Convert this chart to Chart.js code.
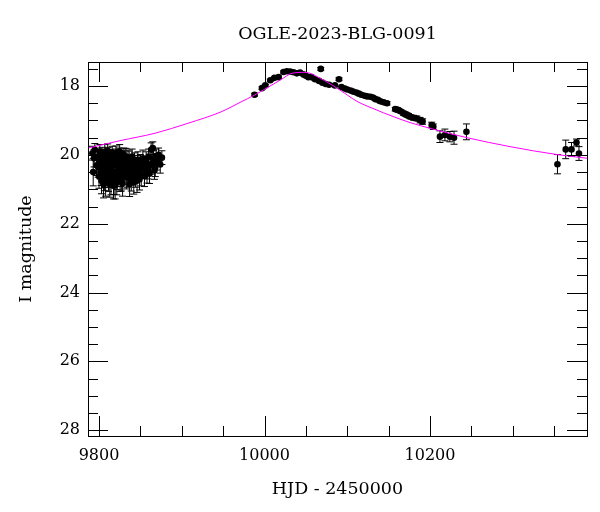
<!DOCTYPE html>
<html><head><meta charset="utf-8">
<script src="https://cdn.jsdelivr.net/npm/chart.js@4/dist/chart.umd.min.js"></script>
<style>html,body{margin:0;padding:0;background:#fff}#wrap{width:600px;height:512px}</style>
</head><body><div id="wrap"><canvas id="c" width="600" height="512"></canvas></div>
<script>
const chartTitle = "OGLE-2023-BLG-0091";
const xAxisTitle = "HJD - 2450000";
const yAxisTitle = "I magnitude";

const obsHJD = [
 9792,9793,9794,9795,9797,9798,9800,9801,9801.5,9802,9803,9803.5,9804,9805,9805.5,9806,9807,9807.5,9808,9808.5,
 9809,9810,9810.5,9811,9811.5,9812,9813,9813.5,9814,9815,9815.5,9816,9817,9817.5,9818,9818.5,9819,9820,9820.5,9821,
 9821.5,9822,9823,9823.5,9824,9825,9825.5,9826,9827,9827.5,9828,9829,9830,9831,9832,9833,9834,9835,9836,9837,
 9838,9839,9840,9841,9842,9843,9844,9845,9846,9847,9848,9850,9851,9853,9854,9856,9858,9860,9861,9863,
 9864,9866,9868,9870,9872,9874,9876,
 9799,9802.5,9804.5,9806.5,9809.5,9812.5,9814.5,9816.5,9819.5,9822.5,9824.5,9826.5,9828.5,9830.5,9832.5,9834.5,9836.5,9838.5,9840.5,9843.5,
 9846.5,9849,9852,9855,9857,9859,9862,9865,9867,9869,
 9988,9997,10001,10007,10012,10017,10023,10027,10031,10035,10039,10043,10047,10050,10053,10057,10061,10068,10066,10070,
 10074,10078,10085,10090,10093,10097,10100,10104,10107,10111,10114,10117,10121,10124,10128,10131,10134,10137,10140,10144,
 10148,10158,10160,10162,10165,10168,10170,10172,10174,10176,10180,10184,10188,10191,10202,10204,10212,10218,10224,10229,
 10244,10354,10364,10371,10377,10380
];
const obsMag = [
 19.95,20.50,20.10,19.85,20.30,20.05,20.62,19.90,20.40,20.20,20.75,19.98,20.45,20.10,20.85,20.35,19.92,20.60,20.80,20.18,
 20.25,20.55,19.88,20.00,20.70,20.40,20.85,20.08,20.15,20.60,20.32,19.95,20.30,20.90,20.75,20.12,20.10,20.50,19.96,20.05,
 20.80,20.65,20.20,20.55,20.45,19.90,20.72,20.35,20.70,20.10,20.15,20.55,20.00,20.40,20.25,20.65,20.60,20.10,20.45,20.85,
 20.30,20.70,20.05,20.50,20.80,20.20,20.62,20.35,20.75,20.15,20.48,20.25,20.58,20.10,20.40,20.30,20.52,20.05,20.55,19.85,
 20.25,20.10,20.35,20.20,20.00,20.28,20.08,
 20.35,20.55,20.05,20.68,20.42,20.22,20.78,20.48,20.88,20.30,20.02,20.58,20.82,20.35,20.05,20.30,20.15,20.55,20.38,20.50,
 20.28,20.70,20.35,20.62,20.15,20.42,20.30,19.80,20.45,20.05,
 18.25,18.06,17.98,17.83,17.76,17.74,17.59,17.57,17.58,17.60,17.63,17.61,17.66,17.70,17.74,17.74,17.80,17.50,17.85,17.90,
 17.94,17.96,17.98,17.80,18.03,18.07,18.10,18.13,18.16,18.19,18.22,18.25,18.28,18.30,18.31,18.33,18.38,18.40,18.44,18.47,
 18.50,18.67,18.68,18.70,18.74,18.79,18.81,18.84,18.86,18.89,18.92,18.94,18.99,19.03,19.13,19.18,19.47,19.42,19.47,19.50,
 19.33,20.27,19.84,19.84,19.64,19.96
];
const obsErr = [
 0.20,0.40,0.25,0.18,0.30,0.22,0.35,0.20,0.30,0.28,0.38,0.20,0.32,0.25,0.40,0.30,0.22,0.35,0.40,0.25,
 0.28,0.35,0.20,0.22,0.36,0.30,0.38,0.24,0.25,0.35,0.28,0.20,0.28,0.38,0.40,0.24,0.24,0.32,0.22,0.22,
 0.36,0.36,0.26,0.30,0.30,0.20,0.34,0.30,0.35,0.22,0.25,0.32,0.20,0.30,0.26,0.34,0.34,0.24,0.30,0.36,
 0.28,0.35,0.22,0.30,0.34,0.26,0.32,0.28,0.34,0.24,0.30,0.26,0.32,0.24,0.28,0.26,0.30,0.22,0.28,0.20,
 0.26,0.22,0.28,0.24,0.20,0.25,0.20,
 0.30,0.34,0.22,0.36,0.30,0.26,0.38,0.32,0.40,0.28,0.22,0.34,0.38,0.30,0.24,0.28,0.26,0.30,0.30,0.30,
 0.26,0.32,0.28,0.30,0.24,0.28,0.26,0.18,0.26,0.22,
 0.04,0.04,0.03,0.03,0.03,0.03,0.03,0.03,0.03,0.03,0.03,0.03,0.03,0.03,0.03,0.03,0.03,0.04,0.03,0.03,
 0.03,0.03,0.03,0.04,0.03,0.03,0.03,0.03,0.03,0.03,0.03,0.04,0.04,0.04,0.04,0.04,0.04,0.04,0.05,0.05,
 0.05,0.05,0.05,0.05,0.05,0.06,0.06,0.06,0.06,0.06,0.07,0.07,0.08,0.08,0.08,0.08,0.17,0.17,0.15,0.19,
 0.23,0.28,0.27,0.20,0.10,0.20
];

const modelHJD = [9786.7,9826.6,9867.7,9907.6,9947.4,9971.6,9987.3,9994.6,10018.7,10034.4,10048.9,10067.1,10087.6,10113.0,10123.9,10163.7,10175.8,10203.6,10224.2,10244.7,10296.7,10353.5,10391];
const modelMag = [19.80,19.58,19.37,19.08,18.75,18.46,18.27,18.17,17.83,17.62,17.60,17.77,18.06,18.46,18.58,18.96,19.06,19.25,19.38,19.50,19.76,19.99,20.10];

const xTickValues = [9800, 10000, 10200];
const yTickValues = [18, 20, 22, 24, 26, 28];

const SERIF = '"DejaVu Serif", "Liberation Serif", serif';

const obsPoints = obsHJD.map((x, i) => ({x: x, y: obsMag[i]}));
const modelPoints = modelHJD.map((x, i) => ({x: x, y: modelMag[i]}));

const errorBarPlugin = {
  id: 'errorBars',
  beforeDatasetsDraw(chart) {
    const {ctx, scales: {x, y}, chartArea} = chart;
    ctx.save();
    ctx.beginPath();
    ctx.rect(chartArea.left, chartArea.top, chartArea.right - chartArea.left, chartArea.bottom - chartArea.top);
    ctx.clip();
    ctx.strokeStyle = '#000';
    ctx.lineWidth = 1;
    for (let i = 0; i < obsHJD.length; i++) {
      const px = x.getPixelForValue(obsHJD[i]);
      const y1 = y.getPixelForValue(obsMag[i] - obsErr[i]);
      const y2 = y.getPixelForValue(obsMag[i] + obsErr[i]);
      ctx.beginPath();
      ctx.moveTo(px, y1); ctx.lineTo(px, y2);
      ctx.moveTo(px - 3.5, y1); ctx.lineTo(px + 3.5, y1);
      ctx.moveTo(px - 3.5, y2); ctx.lineTo(px + 3.5, y2);
      ctx.stroke();
    }
    ctx.restore();
  }
};

const frameTicksPlugin = {
  id: 'frameTicks',
  afterDraw(chart) {
    const {ctx, scales: {x, y}, chartArea: a} = chart;
    ctx.save();
    ctx.strokeStyle = '#000';
    ctx.lineWidth = 1;
    ctx.beginPath();
    for (let v = 9800; v <= 10380; v += 50) {
      const major = xTickValues.includes(v);
      const len = major ? 20 : 10;
      const px = Math.round(x.getPixelForValue(v)) + 0.5;
      ctx.moveTo(px, a.bottom); ctx.lineTo(px, a.bottom - len);
      ctx.moveTo(px, a.top); ctx.lineTo(px, a.top + len);
    }
    for (let v = 17.5; v <= 28.0001; v += 0.5) {
      const major = yTickValues.includes(Math.round(v * 10) / 10);
      const len = major ? 20 : 10;
      const py = Math.round(y.getPixelForValue(v)) + 0.5;
      ctx.moveTo(a.left, py); ctx.lineTo(a.left + len, py);
      ctx.moveTo(a.right, py); ctx.lineTo(a.right - len, py);
    }
    ctx.stroke();
    ctx.strokeRect(Math.round(a.left) + 0.5, Math.round(a.top) + 0.5, Math.round(a.right - a.left), Math.round(a.bottom - a.top));
    ctx.fillStyle = '#000';
    ctx.font = '17.5px ' + SERIF;
    ctx.textAlign = 'center';
    ctx.textBaseline = 'middle';
    ctx.fillText(chartTitle, (a.left + a.right) / 2, 34);
    ctx.restore();
  }
};

new Chart(document.getElementById('c'), {
  type: 'scatter',
  data: {
    datasets: [
      {
        label: 'model', type: 'line', data: modelPoints,
        borderColor: '#ff00ff', borderWidth: 1, pointRadius: 0, fill: false,
        cubicInterpolationMode: 'monotone', order: 0
      },
      {
        label: 'OGLE', data: obsPoints,
        backgroundColor: '#000', borderColor: '#000', pointRadius: 3.3, pointBorderWidth: 0,
        order: 1
      }
    ]
  },
  options: {
    responsive: false,
    animation: false,
    devicePixelRatio: 1,
    layout: {padding: {left: 0, right: 13, top: 62, bottom: 0}},
    plugins: {legend: {display: false}, tooltip: {enabled: false}, title: {display: false}},
    scales: {
      x: {
        type: 'linear', min: 9786.7, max: 10389.7,
        afterBuildTicks: s => { s.ticks = xTickValues.map(v => ({value: v})); },
        afterFit: s => { s.height = 76; },
        grid: {display: false, drawTicks: false},
        border: {display: false},
        ticks: {color: '#000', padding: 10, font: {family: SERIF, size: 16}, callback: v => String(v), maxRotation: 0},
        title: {display: true, text: xAxisTitle, color: '#000', font: {family: SERIF, size: 17.5}, padding: {top: 0, bottom: 12}}
      },
      y: {
        type: 'linear', reverse: true, min: 17.3, max: 28.17,
        afterBuildTicks: s => { s.ticks = yTickValues.map(v => ({value: v})); },
        afterFit: s => { s.width = 88; },
        grid: {display: false, drawTicks: false},
        border: {display: false},
        ticks: {color: '#000', padding: 8, font: {family: SERIF, size: 16}, callback: v => String(v)},
        title: {display: true, text: yAxisTitle, color: '#000', font: {family: SERIF, size: 17.5}, padding: {top: 16, bottom: 0}}
      }
    }
  },
  plugins: [errorBarPlugin, frameTicksPlugin]
});
</script>
</body></html>
